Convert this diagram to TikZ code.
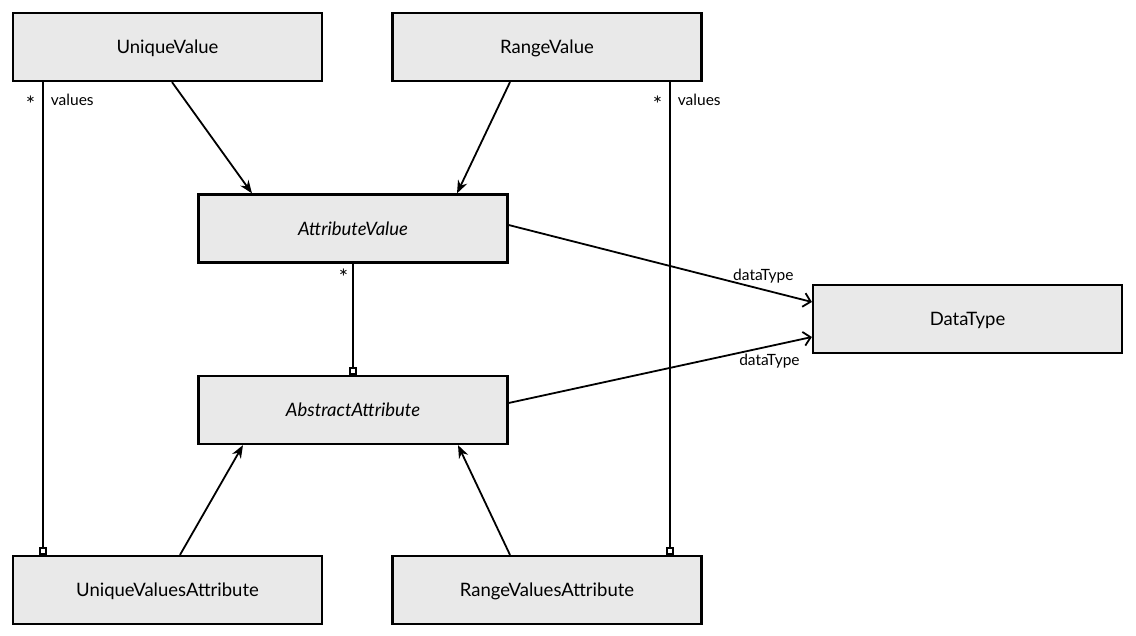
\documentclass[tikz,border=0pt]{standalone}
\usepackage{fontspec}
\setmainfont{Lato}
\usetikzlibrary{positioning,arrows.meta}
\definecolor{boxgrey}{HTML}{E9E9E9}

\begin{document}
\begin{tikzpicture}[
    x=1pt, y=-1pt,
    klass/.style={
        draw=black,
        line width=2.2pt,
        fill=boxgrey,
        minimum width=309pt,
        minimum height=68pt,
        inner sep=0pt,
        text depth=0pt,
        font=\fontsize{18.5}{22}\selectfont,
    },
    link/.style={line width=1.8pt},
    nav/.style={link, -{Stealth[length=13pt,width=10pt]}},
    dep/.style={link, -{Straight Barb[length=7pt,width=14pt]}},
    own/.style={link, -{Square[open,length=8pt,width=8pt]}},
    lbl/.style={font=\fontsize{15.5}{18}\selectfont, inner sep=0pt},
    mult/.style={font=\fontsize{22}{24}\selectfont, inner sep=0pt},
]

\useasboundingbox (0,0) rectangle (1136,636);

\node[klass] (UV) at (167.5, 47) {UniqueValue};
\node[klass] (RV) at (547, 47) {RangeValue};
\node[klass] (AV) at (353, 228.5) {\itshape AttributeValue};
\node[klass] (AA) at (353, 410) {\itshape AbstractAttribute};
\node[klass] (DT) at (967.5, 319) {DataType};
\node[klass] (UVA) at (167.5, 590) {UniqueValuesAttribute};
\node[klass] (RVA) at (547, 590) {RangeValuesAttribute};

% values associations
\draw[own] ([xshift=-124.5pt]UV.south) -- ([xshift=-124.5pt]UVA.north)
    node[mult, at start, anchor=north east, xshift=-7pt, yshift=-13pt] {*}
    node[lbl, at start, anchor=north west, xshift=7pt, yshift=-11pt] {values};
\draw[own] ([xshift=123pt]RV.south) -- ([xshift=123pt]RVA.north)
    node[mult, at start, anchor=north east, xshift=-7pt, yshift=-13pt] {*}
    node[lbl, at start, anchor=north west, xshift=7pt, yshift=-11pt] {values};
\draw[own] (AV.south) -- (AA.north)
    node[mult, at start, anchor=north east, xshift=-4pt, yshift=-4pt] {*};

% subclasses
\draw[nav] ([xshift=4.5pt]UV.south) -- ([xshift=-101pt]AV.north);
\draw[nav] ([xshift=-37pt]RV.south) -- ([xshift=104pt]AV.north);
\draw[nav] ([xshift=12.5pt]UVA.north) -- ([xshift=-110pt]AA.south);
\draw[nav] ([xshift=-37pt]RVA.north) -- ([xshift=105pt]AA.south);

% data types
\draw[dep] ([yshift=3.5pt]AV.east) -- ([yshift=17pt]DT.west)
    node[lbl, pos=0.84, above=6pt] {dataType};
\draw[dep] ([yshift=7pt]AA.east) -- ([yshift=-18pt]DT.west)
    node[lbl, pos=0.86, below=7pt] {dataType};

\end{tikzpicture}
\end{document}
